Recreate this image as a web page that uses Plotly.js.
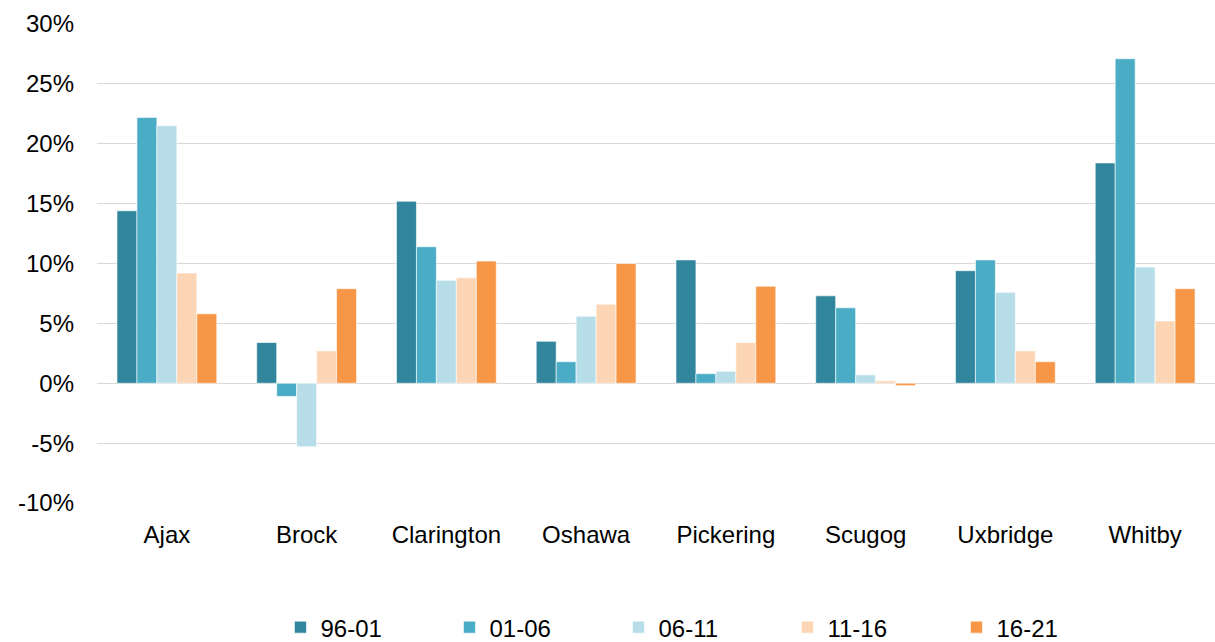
<!DOCTYPE html>
<html>
<head>
<meta charset="utf-8">
<script src="https://cdn.plot.ly/plotly-3.0.1.min.js"></script>
<style>html,body{margin:0;padding:0;background:#fff;}#chart{width:1215px;height:642px;}</style>
</head>
<body>
<div id="chart"></div>
<script>
const categories = ["Ajax", "Brock", "Clarington", "Oshawa", "Pickering", "Scugog", "Uxbridge", "Whitby"];
const s9601 = [14.4, 3.4, 15.2, 3.5, 10.3, 7.3, 9.4, 18.4];
const s0106 = [22.2, -1.1, 11.4, 1.8, 0.8, 6.3, 10.3, 27.1];
const s0611 = [21.5, -5.3, 8.6, 5.6, 1.0, 0.7, 7.6, 9.7];
const s1116 = [9.2, 2.7, 8.8, 6.6, 3.4, 0.2, 2.7, 5.2];
const s1621 = [5.8, 7.9, 10.2, 10.0, 8.1, -0.2, 1.8, 7.9];
const seriesNames = ["96-01", "01-06", "06-11", "11-16", "16-21"];
const seriesValues = [s9601, s0106, s0611, s1116, s1621];
const colors = ["#31859C", "#4BACC6", "#B7DEE8", "#FCD5B5", "#F79646"];
const yTicks = [-10, -5, 0, 5, 10, 15, 20, 25, 30];

const traces = seriesNames.map((n, i) => ({
  type: "bar",
  name: n,
  x: categories,
  y: seriesValues[i],
  marker: {color: colors[i], line: {color: "rgba(255,255,255,0.6)", width: 1}},
  hoverinfo: "none"
}));

const layout = {
  width: 1215, height: 642,
  margin: {l: 97, r: 0, t: 24, b: 139, autoexpand: false},
  paper_bgcolor: "#fff", plot_bgcolor: "#fff",
  font: {family: "Liberation Sans, Arial, sans-serif", size: 24, color: "#000"},
  barmode: "group",
  bargap: 0.286,
  bargroupgap: 0,
  showlegend: true,
  legend: {
    orientation: "h", x: 0.542, xanchor: "center", y: -0.26, yanchor: "middle",
    entrywidth: 124, entrywidthmode: "pixels",
    font: {size: 24, color: "#000"}, itemwidth: 30, traceorder: "normal"
  },
  xaxis: {
    type: "category", showgrid: false, zeroline: false, showline: false,
    ticks: "", ticklabelstandoff: 15, tickfont: {size: 24, color: "#000"}
  },
  yaxis: {
    range: [-10, 30], tickvals: yTicks, ticktext: yTicks.map(v => v + "%"),
    showgrid: true, gridcolor: "#D9D9D9", gridwidth: 1,
    zeroline: true, zerolinecolor: "#D9D9D9", zerolinewidth: 1,
    showline: false, ticks: "", ticklabelstandoff: 22,
    tickfont: {size: 24, color: "#000"}
  }
};

Plotly.newPlot("chart", traces, layout, {displayModeBar: false, staticPlot: true});
</script>
</body>
</html>
